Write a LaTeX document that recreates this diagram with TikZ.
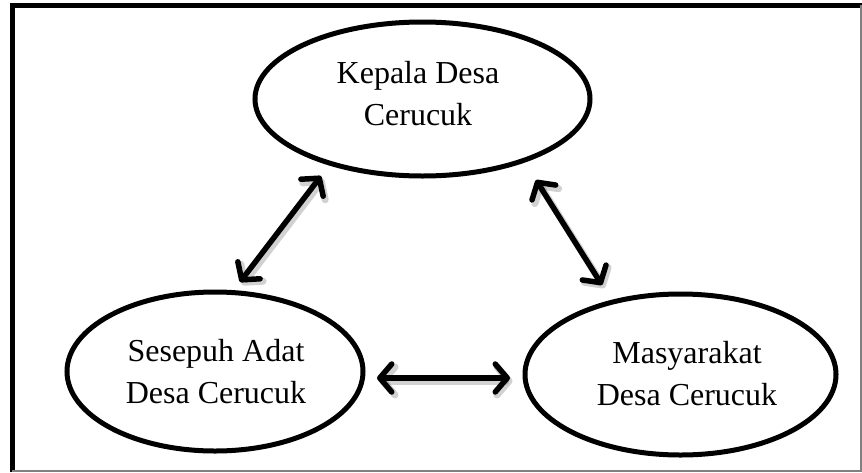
\documentclass[tikz,border=0pt]{standalone}
\usepackage{fontspec}
\setmainfont{Liberation Serif}
\usetikzlibrary{shapes.geometric,arrows.meta}
\begin{document}
\begin{tikzpicture}[x=1pt,y=-1pt,
  ell/.style={ellipse, draw, line width=5pt, inner sep=0pt},
  lbl/.style={align=center, font=\fontsize{32}{42}\selectfont, inner sep=0pt},
  link/.style={line width=5.5pt, line cap=round, {Straight Barb[length=12pt,width=28pt,round]}-{Straight Barb[length=12pt,width=28pt,round]}},
  linkshadow/.style={link, draw=black, opacity=0.18, line width=7pt, transform canvas={shift={(2.5pt,-3pt)}}}]
\useasboundingbox (0,0) rectangle (862,472);
\fill[white] (0,0) rectangle (862,472);
% frame
\draw[line width=5pt] (12,472) -- (12,5.5) -- (862,5.5);
\draw[gray, line width=1.5pt] (861,5) -- (861,471) -- (12,471);
% ellipses
\node[ell, minimum width=335pt, minimum height=154pt] (k) at (422.5,99) {};
\node[ell, minimum width=296pt, minimum height=159pt] (s) at (215,371.5) {};
\node[ell, minimum width=311pt, minimum height=161pt] (m) at (680.5,374.5) {};
% labels
\node[lbl] (kt) at (418,94) {Kepala Desa\\Cerucuk};
\node[lbl] (st) at (216,372) {Sesepuh Adat\\Desa Cerucuk};
\node[lbl] (mt) at (687,374) {Masyarakat\\Desa Cerucuk};
% arrow ends
\coordinate (a1s) at (240,282);
\coordinate (a1k) at (321,176);
\coordinate (a2k) at (536,180);
\coordinate (a2m) at (602,285);
\coordinate (a3s) at (377,378);
\coordinate (a3m) at (510,378);
\draw[linkshadow] (a1s) -- (a1k);
\draw[linkshadow] (a2k) -- (a2m);
\draw[linkshadow] (a3s) -- (a3m);
\draw[link] (a1s) -- (a1k);
\draw[link] (a2k) -- (a2m);
\draw[link] (a3s) -- (a3m);
\end{tikzpicture}
\end{document}
